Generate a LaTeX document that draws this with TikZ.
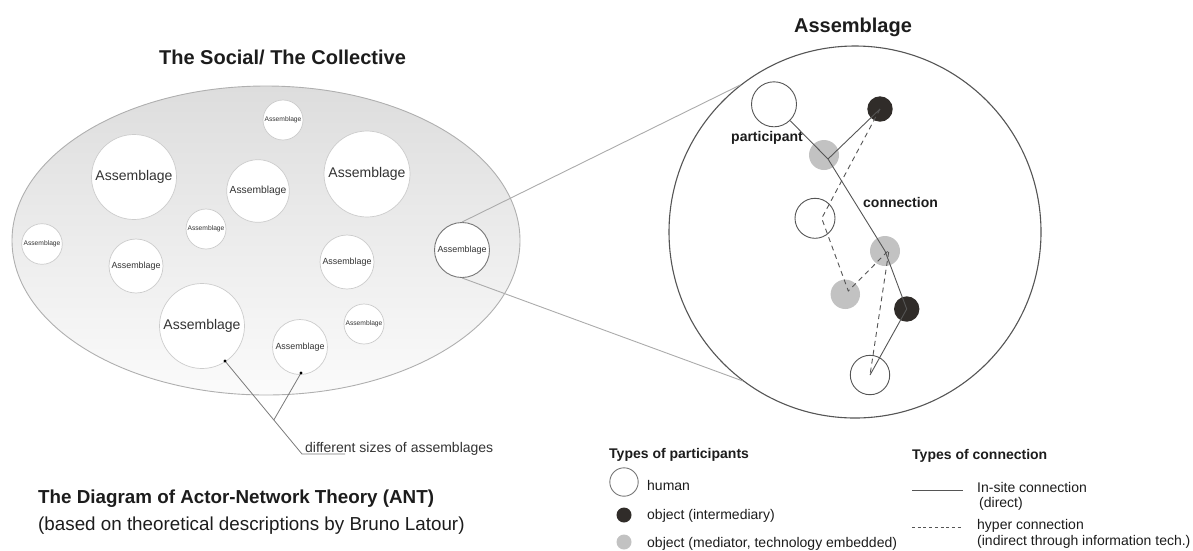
\documentclass[tikz,border=0pt]{standalone}
\usepackage{fontspec}
\setmainfont{Liberation Sans}
\usetikzlibrary{shapes.geometric,calc}
\newcommand\setfs[1]{\fontsize{#1}{#1}\selectfont}
\definecolor{ink}{HTML}{1C1C1C}
\definecolor{asmtext}{HTML}{333333}
\definecolor{asmline}{HTML}{CCCCCC}
\definecolor{socialline}{HTML}{AFAFAF}
\definecolor{socialtop}{HTML}{DDDDDD}
\definecolor{socialbot}{HTML}{FBFBFB}
\definecolor{zoomline}{HTML}{ABABAB}
\definecolor{netline}{HTML}{555555}
\definecolor{objdark}{HTML}{302C29}
\definecolor{objgray}{HTML}{C2C2C2}
\definecolor{leader}{HTML}{7A7A7A}
\begin{document}
\begin{tikzpicture}[x=1pt,y=-1pt,
  asm/.style={circle, draw=asmline, fill=white, line width=0.7pt, inner sep=0pt, text=asmtext},
  human/.style={circle, draw=netline, fill=white, line width=0.9pt, inner sep=0pt},
  objd/.style={circle, fill=objdark, inner sep=0pt, minimum size=25.4pt},
  objg/.style={circle, fill=objgray, inner sep=0pt, minimum size=30pt},
  direct/.style={draw=netline, line width=0.9pt},
  hyper/.style={draw=netline, line width=0.9pt, dash pattern=on 5pt off 4pt},
  txt/.style={inner sep=0pt, anchor=base west, text=ink},
  title/.style={inner sep=0pt, anchor=base, text=ink, font=\setfs{20}\bfseries},
]
\useasboundingbox (0,0) rectangle (1193,550);

% the collective
\node[ellipse, draw=socialline, line width=0.9pt, top color=socialtop, bottom color=socialbot,
      minimum width=508pt, minimum height=309pt, inner sep=0pt] (social) at (266,240.5) {};
\node[title] (ttl1) at (282.5,64) {The Social/ The Collective};

\node[asm, minimum size=40pt, font=\setfs{6.7}]  (a1)  at (283,120) {Assemblage};
\node[asm, minimum size=85pt, font=\setfs{14}]   (a2)  at (134,177) {Assemblage};
\node[asm, minimum size=62.6pt, font=\setfs{10.3}] (a3) at (258,191) {Assemblage};
\node[asm, minimum size=86pt, font=\setfs{14}]   (a4)  at (367,174) {Assemblage};
\node[asm, minimum size=40pt, font=\setfs{6.7}]  (a5)  at (206,229) {Assemblage};
\node[asm, minimum size=40.6pt, font=\setfs{6.7}] (a6) at (42,244) {Assemblage};
\node[asm, minimum size=54pt, font=\setfs{8.9}]  (a7)  at (136,266) {Assemblage};
\node[asm, minimum size=54pt, font=\setfs{8.9}]  (a8)  at (347,262) {Assemblage};
\node[asm, draw=netline!80, line width=0.9pt, minimum size=55pt, font=\setfs{8.9}] (a9) at (462,250) {Assemblage};
\node[asm, minimum size=85pt, font=\setfs{14}]   (a10) at (202,326) {Assemblage};
\node[asm, minimum size=55pt, font=\setfs{8.9}]  (a11) at (300,347) {Assemblage};
\node[asm, minimum size=40pt, font=\setfs{6.7}]  (a12) at (364,324) {Assemblage};

% leader to the note on sizes
\coordinate (d1) at (225,361);
\coordinate (d2) at (301,373);
\coordinate (lk) at (302,454);
\coordinate (ll) at (345,454);
\coordinate (lj) at ($(d1)!0.634!(lk)$);
\draw[leader, line width=0.8pt] (d1) -- (lk) -- (ll);
\draw[leader, line width=0.8pt] (d2) -- (lj);
\fill[black] (d1) circle (1.6pt);
\fill[black] (d2) circle (1.6pt);
\node[txt, text=asmtext, font=\setfs{14}] (sizes) at (305,452) {different sizes of assemblages};

% enlarged assemblage
\node[circle, draw=netline, line width=1.1pt, fill=white, minimum size=372pt, inner sep=0pt] (big) at (855,232) {};
\draw[zoomline, line width=0.9pt] (a9.north) -- (big.128.4);
\draw[zoomline, line width=0.9pt] (a9.south) -- (big.233.8);
\node[title] (ttl2) at (853,32) {Assemblage};

\node[human, minimum size=45pt] (h1) at (774,104.3) {};
\node[objd] (b1) at (880,109) {};
\node[objg] (g1) at (824,155) {};
\node[human, minimum size=40pt] (h2) at (815,218.3) {};
\node[objg] (g2) at (885,251) {};
\node[objg, minimum size=29.4pt] (g3) at (845.3,294.3) {};
\node[objd] (b2) at (906.7,309) {};
\node[human, minimum size=39.4pt] (h3) at (870,375) {};

\coordinate (j1) at (828,159);
\coordinate (k2) at (821.7,218.3);
\coordinate (k3) at (848.3,291);
\coordinate (k4) at (889,250);
\draw[direct] (h1) -- (j1) -- (g2.center) -- (b2.center) -- (h3.center);
\draw[direct] (j1) -- (b1.center);
\draw[hyper] (b1.center) -- (k2) -- (k3) -- (k4) -- (h3.center);

\node[txt, font=\setfs{14}\bfseries] (lpart) at (731,141) {participant};
\node[txt, font=\setfs{14}\bfseries] (lconn) at (863,207) {connection};

% legend: participants
\node[txt, font=\setfs{14}\bfseries] (tp) at (609,458.5) {Types of participants};
\node[human, draw=netline!80, minimum size=28.4pt] (kh) at (624,482) {};
\node[objd, minimum size=15pt] (kb) at (624,515) {};
\node[objg, minimum size=15pt] (kg) at (624,542) {};
\node[txt, font=\setfs{14}] (th) at (647,490.5) {human};
\node[txt, font=\setfs{14}] (tb) at (647,519) {object (intermediary)};
\node[txt, font=\setfs{14}] (tg) at (647,547) {object (mediator, technology embedded)};

% legend: connections
\node[txt, font=\setfs{14}\bfseries] (tc) at (912,459) {Types of connection};
\coordinate (s1) at (912,490);
\coordinate (s2) at (963,490);
\coordinate (s3) at (912,527.3);
\coordinate (s4) at (963,527.3);
\draw[direct, line width=0.8pt] (s1) -- (s2);
\draw[netline, line width=0.8pt, dash pattern=on 3pt off 2.7pt] (s3) -- (s4);
\node[txt, font=\setfs{14}] (td1) at (977,492.7) {In-site connection};
\node[txt, font=\setfs{14}] (td2) at (979,507.3) {(direct)};
\node[txt, font=\setfs{14}] (th1) at (977,529.3) {hyper connection};
\node[txt, font=\setfs{14}] (th2) at (977,545) {(indirect through information tech.)};

% caption
\node[txt, font=\setfs{18.8}\bfseries] (cap1) at (38,503.3) {The Diagram of Actor-Network Theory (ANT)};
\node[txt, font=\setfs{18.8}] (cap2) at (38,530.5) {(based on theoretical descriptions by Bruno Latour)};
\end{tikzpicture}
\end{document}
